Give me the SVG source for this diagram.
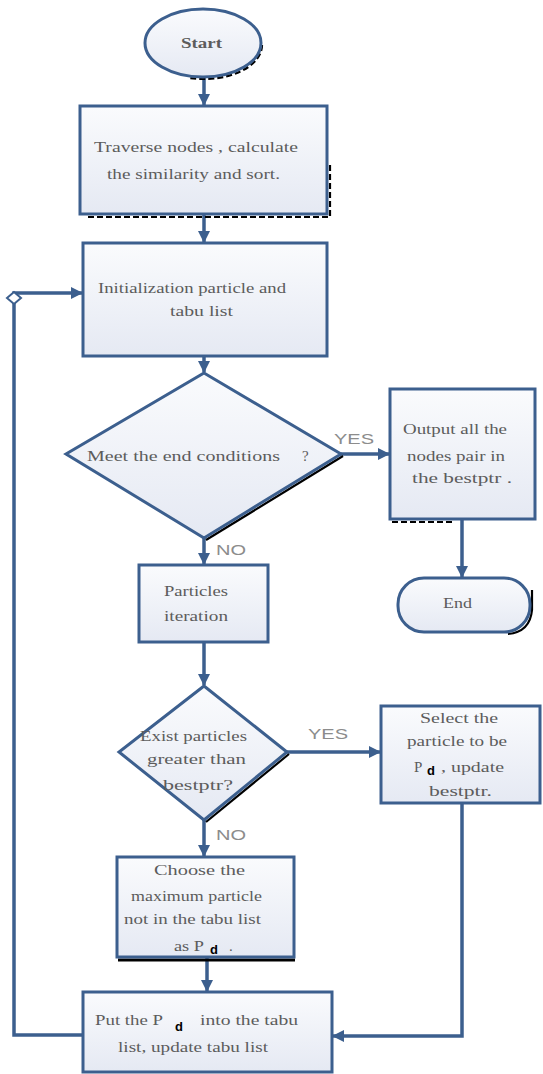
<svg xmlns="http://www.w3.org/2000/svg" width="543" height="1074" viewBox="0 0 543 1074">
<style>
.node{fill:url(#g);stroke:#3C5F8E;stroke-width:3}
.sh{fill:none;stroke:#000;stroke-width:2.2}
.dash{stroke-dasharray:6 3}
.conn{fill:none;stroke:#3C5F8E;stroke-width:3.5}
.t{font-family:"Liberation Serif",serif;font-size:15px;fill:#5c5c5c}
.lbl{font-family:"Liberation Sans",sans-serif;font-size:14px;fill:#8c8c8c}
.ic{font-family:"Liberation Sans",sans-serif;font-size:13px;font-weight:bold;fill:#000}
</style>
<defs>
<linearGradient id="g" x1="0" y1="0" x2="0" y2="1">
<stop offset="0" stop-color="#FAFBFD"/>
<stop offset="1" stop-color="#E5E9F3"/>
</linearGradient>
<marker id="ar" markerUnits="userSpaceOnUse" markerWidth="14" markerHeight="14" refX="11" refY="7" orient="auto">
<path d="M0,1 L12,7 L0,13 Z" fill="#3C5F8E"/>
</marker>
</defs>
<rect width="543" height="1074" fill="#fff"/>

<g id="connectors">
<line class="conn" x1="204" y1="77" x2="204" y2="105" marker-end="url(#ar)"/>
<line class="conn" x1="204" y1="215" x2="204" y2="242" marker-end="url(#ar)"/>
<line class="conn" x1="204" y1="357" x2="204" y2="372" marker-end="url(#ar)"/>
<line class="conn" x1="341" y1="454" x2="389" y2="454" marker-end="url(#ar)"/>
<line class="conn" x1="462" y1="520" x2="462" y2="577" marker-end="url(#ar)"/>
<line class="conn" x1="204" y1="538" x2="204" y2="564" marker-end="url(#ar)"/>
<line class="conn" x1="204" y1="643" x2="204" y2="685" marker-end="url(#ar)"/>
<line class="conn" x1="287" y1="752" x2="380" y2="752" marker-end="url(#ar)"/>
<line class="conn" x1="204" y1="820" x2="204" y2="856" marker-end="url(#ar)"/>
<line class="conn" x1="207" y1="958" x2="207" y2="991" marker-end="url(#ar)"/>
<polyline class="conn" points="462,803 462,1036 333,1036" marker-end="url(#ar)"/>
<polyline class="conn" points="83,1035 14,1035 14,293 82,293" marker-end="url(#ar)"/>
<path d="M14,292 L21,298 L14,304 L7,298 Z" fill="#fff" stroke="#3C5F8E" stroke-width="2"/>
<text class="lbl" x="334" y="444" textLength="40" lengthAdjust="spacingAndGlyphs">YES</text>
<text class="lbl" x="216" y="555" textLength="30" lengthAdjust="spacingAndGlyphs">NO</text>
<text class="lbl" x="308" y="739" textLength="40" lengthAdjust="spacingAndGlyphs">YES</text>
<text class="lbl" x="216" y="840" textLength="30" lengthAdjust="spacingAndGlyphs">NO</text>
</g>

<g id="start">
<path class="sh dash" d="M262,45 A58,34 0 0 1 190,78"/>
<ellipse class="node" cx="203" cy="43" rx="58" ry="34"/>
<text class="t" x="181" y="48" textLength="41" lengthAdjust="spacingAndGlyphs" style="font-weight:bold">Start</text>
</g>

<g id="traverse">
<polyline class="sh dash" points="330,165 330,217 85,217"/>
<rect class="node" x="80" y="106" width="247" height="108"/>
<text class="t" x="94" y="152" textLength="204" lengthAdjust="spacingAndGlyphs">Traverse nodes , calculate</text>
<text class="t" x="107" y="179" textLength="173" lengthAdjust="spacingAndGlyphs">the similarity and sort.</text>
</g>

<g id="init">
<rect class="node" x="83" y="243" width="244" height="113"/>
<text class="t" x="98" y="293" textLength="188" lengthAdjust="spacingAndGlyphs">Initialization particle and</text>
<text class="t" x="170" y="316" textLength="63" lengthAdjust="spacingAndGlyphs">tabu list</text>
</g>

<g id="endcond">
<line class="sh" x1="343" y1="456" x2="206" y2="540"/>
<polygon class="node" points="204,373 341,454 204,538 66,454"/>
<text class="t" x="87" y="461" textLength="193" lengthAdjust="spacingAndGlyphs">Meet the end conditions</text>
<text class="t" x="302" y="461">?</text>
</g>

<g id="output">
<line class="sh dash" x1="392" y1="522" x2="452" y2="522"/>
<rect class="node" x="390" y="389" width="145" height="130"/>
<text class="t" x="403" y="434" textLength="104" lengthAdjust="spacingAndGlyphs">Output all the</text>
<text class="t" x="407" y="461" textLength="98" lengthAdjust="spacingAndGlyphs">nodes pair in</text>
<text class="t" x="412" y="483" textLength="100" lengthAdjust="spacingAndGlyphs">the bestptr .</text>
</g>

<g id="end">
<path class="sh" d="M532,590 L532,610 Q530,632 508,634"/>
<rect class="node" x="398" y="578" width="132" height="54" rx="26" ry="26"/>
<text class="t" x="443" y="608" textLength="29" lengthAdjust="spacingAndGlyphs">End</text>
</g>

<g id="iteration">
<rect class="node" x="139" y="565" width="129" height="77"/>
<text class="t" x="164" y="596" textLength="64" lengthAdjust="spacingAndGlyphs">Particles</text>
<text class="t" x="164" y="621" textLength="64" lengthAdjust="spacingAndGlyphs">iteration</text>
</g>

<g id="exist">
<line class="sh" x1="289" y1="754" x2="206" y2="822"/>
<polygon class="node" points="204,686 287,752 204,820 119,752"/>
<text class="t" x="140" y="741" textLength="107" lengthAdjust="spacingAndGlyphs">Exist particles</text>
<text class="t" x="147" y="764" textLength="99" lengthAdjust="spacingAndGlyphs">greater than</text>
<text class="t" x="163" y="790" textLength="70" lengthAdjust="spacingAndGlyphs">bestptr?</text>
</g>

<g id="select">
<rect class="node" x="381" y="706" width="159" height="97"/>
<text class="t" x="420" y="723" textLength="78" lengthAdjust="spacingAndGlyphs">Select the</text>
<text class="t" x="407" y="746" textLength="100" lengthAdjust="spacingAndGlyphs">particle to be</text>
<text class="t" x="414" y="772">P</text>
<text class="ic" x="427" y="775">d</text>
<text class="t" x="441" y="772" textLength="63" lengthAdjust="spacingAndGlyphs">, update</text>
<text class="t" x="429" y="796" textLength="63" lengthAdjust="spacingAndGlyphs">bestptr.</text>
</g>

<g id="choose">
<line x1="118" y1="960" x2="295" y2="960" stroke="#000" stroke-width="3"/>
<rect class="node" x="117" y="857" width="177" height="100"/>
<text class="t" x="154" y="875" textLength="91" lengthAdjust="spacingAndGlyphs">Choose the</text>
<text class="t" x="131" y="901" textLength="131" lengthAdjust="spacingAndGlyphs">maximum particle</text>
<text class="t" x="124" y="924" textLength="137" lengthAdjust="spacingAndGlyphs">not in the tabu list</text>
<text class="t" x="174" y="951" textLength="30" lengthAdjust="spacingAndGlyphs">as P</text>
<text class="ic" x="210" y="954">d</text>
<text class="t" x="229" y="951">.</text>
</g>

<g id="put">
<rect class="node" x="83" y="992" width="249" height="80"/>
<text class="t" x="95" y="1025" textLength="68" lengthAdjust="spacingAndGlyphs">Put the P</text>
<text class="ic" x="175" y="1031">d</text>
<text class="t" x="200" y="1025" textLength="98" lengthAdjust="spacingAndGlyphs">into the tabu</text>
<text class="t" x="118" y="1052" textLength="150" lengthAdjust="spacingAndGlyphs">list, update tabu list</text>
</g>
</svg>
